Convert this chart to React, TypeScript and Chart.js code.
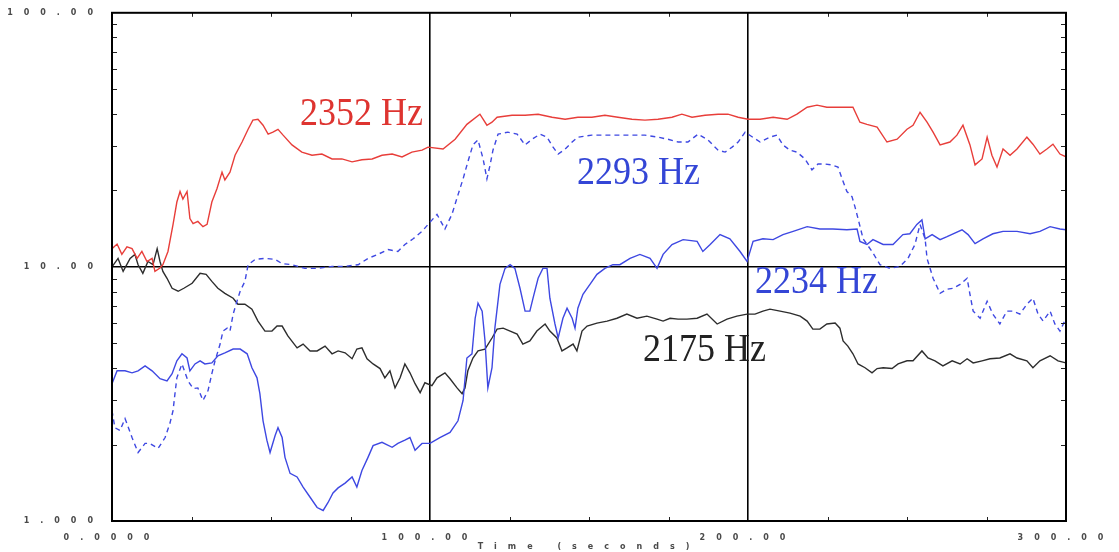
import { useEffect, useRef } from "react";
import { Chart, registerables } from "chart.js";

Chart.register(...registerables);

// [time (s), level] pairs for each tone
const tone2352: [number, number][] = [
  [0, 11.8], [1.6, 12.3], [3.1, 11.2], [4.7, 12.0], [6.3, 11.8], [7.9, 10.8], [9.4, 11.5], [11.0, 10.5],
  [12.6, 10.8], [13.5, 9.6], [15.1, 9.9], [16.0, 10.2], [17.6, 11.5], [19.2, 14.7], [20.4, 18.0], [21.4, 19.8],
  [22.3, 18.5], [23.6, 19.8], [24.5, 15.5], [25.5, 14.8], [27.0, 15.1], [28.6, 14.4], [29.9, 14.7], [31.4, 18.0],
  [33.0, 20.3], [34.6, 23.6], [35.5, 22.0], [37.1, 23.6], [38.7, 27.5], [40.9, 31.0], [42.8, 34.8], [44.3, 37.8],
  [45.9, 38.1], [47.5, 36.1], [49.1, 33.3], [50.6, 33.9], [52.2, 34.8], [53.8, 33.0], [56.6, 30.2], [59.7, 28.3],
  [62.9, 27.5], [66.0, 27.8], [69.2, 26.6], [72.3, 26.6], [75.5, 25.9], [78.6, 26.4], [81.8, 26.6], [84.9, 27.5],
  [88.1, 27.8], [91.2, 27.1], [94.3, 28.3], [97.5, 28.8], [99.4, 29.6], [104.1, 29.1], [107.9, 31.8], [111.6, 36.4],
  [115.7, 39.9], [117.9, 36.1], [119.5, 37.1], [121.1, 38.8], [125.8, 39.5], [129.9, 39.5], [134.0, 39.9], [138.4, 38.8],
  [142.5, 38.1], [146.5, 38.8], [150.9, 38.8], [155.0, 39.5], [159.1, 38.8], [163.5, 38.1], [167.6, 37.8], [171.7, 38.1],
  [176.1, 38.8], [179.2, 39.9], [182.4, 38.8], [186.5, 39.5], [190.6, 39.9], [193.7, 39.9], [196.9, 38.8], [200.0, 38.1],
  [203.8, 38.1], [207.9, 38.8], [212.3, 38.1], [215.4, 39.9], [218.6, 42.5], [221.7, 43.3], [224.8, 42.5], [228.9, 42.5],
  [233.0, 42.5], [235.2, 37.1], [237.4, 36.4], [240.6, 35.5], [243.7, 31.0], [246.9, 31.8], [250.0, 34.8], [251.9, 36.1],
  [254.1, 40.6], [256.3, 37.1], [258.2, 33.9], [260.4, 30.2], [263.5, 31.0], [265.7, 33.0], [267.6, 36.1], [269.8, 30.2],
  [271.4, 25.2], [273.6, 26.6], [275.2, 32.4], [276.7, 27.5], [278.3, 24.7], [280.2, 29.1], [282.4, 27.5], [284.6, 29.1],
  [287.7, 32.4], [289.6, 30.4], [291.8, 27.8], [294.0, 29.1], [295.9, 30.4], [298.1, 27.8], [300, 27.1],
];

const tone2293: [number, number][] = [
  [0, 2.72], [0.9, 2.33], [2.5, 2.27], [4.1, 2.53], [6.3, 2.13], [8.2, 1.86], [10.4, 2.02], [11.9, 2.02],
  [14.5, 1.93], [16.7, 2.13], [18.2, 2.42], [19.2, 2.72], [19.8, 3.17], [20.4, 3.66], [22.0, 4.15], [23.9, 3.56],
  [25.5, 3.32], [27.0, 3.34], [28.6, 2.98], [30.2, 3.26], [31.4, 3.8], [32.4, 4.27], [34.0, 4.97], [34.9, 5.59],
  [36.2, 5.74], [37.1, 5.59], [38.1, 6.52], [39.3, 7.33], [40.3, 8.02], [41.8, 8.77], [42.8, 10.2], [45.0, 10.7],
  [48.1, 10.8], [51.3, 10.7], [53.5, 10.3], [56.6, 10.2], [60.7, 9.87], [64.8, 9.87], [69.2, 10.05], [73.3, 10.05],
  [77.4, 10.2], [80.5, 10.8], [83.6, 11.2], [86.8, 11.7], [89.9, 11.5], [92.1, 12.25], [94.7, 12.9], [97.5, 13.8],
  [99.4, 14.7], [102.2, 16.1], [104.7, 14.1], [106.9, 16.1], [108.8, 19.2], [110.4, 22.2], [111.9, 25.9], [113.5, 30.2],
  [115.1, 31.6], [116.7, 26.6], [117.9, 22.2], [118.9, 25.2], [119.8, 28.8], [121.4, 33.3], [124.5, 33.9], [127.4, 33.3],
  [129.9, 30.2], [132.1, 31.8], [134.6, 33.3], [136.8, 32.4], [138.7, 29.6], [140.3, 27.8], [142.5, 29.1], [144.7, 31.0],
  [146.5, 32.4], [150.9, 33.0], [155.0, 33.0], [159.1, 33.0], [163.5, 33.0], [167.6, 33.0], [171.7, 32.4], [174.8, 31.8],
  [178.0, 31.0], [181.1, 31.0], [184.3, 33.3], [187.4, 31.6], [190.6, 28.8], [192.8, 28.3], [195.0, 29.6], [196.9, 31.0],
  [199.1, 33.9], [203.8, 31.0], [206.9, 32.4], [209.1, 33.0], [211.0, 30.2], [213.2, 28.8], [215.4, 28.3], [217.9, 26.6],
  [220.1, 24.1], [222.0, 25.4], [224.2, 25.4], [226.4, 25.2], [228.3, 24.7], [229.6, 22.2], [231.1, 19.8], [232.7, 18.9],
  [233.6, 17.3], [234.6, 15.5], [236.2, 12.9], [239.0, 11.5], [241.5, 10.2], [244.7, 9.87], [247.8, 10.05], [250.3, 10.8],
  [252.5, 12.25], [254.1, 14.7], [255.7, 12.9], [256.3, 10.8], [258.2, 9.02], [260.4, 7.87], [262.6, 8.17], [264.5, 8.24],
  [266.7, 8.54], [268.9, 9.02], [269.8, 7.8], [270.8, 6.7], [273.0, 6.28], [275.2, 7.33], [277.0, 6.52], [279.2, 5.96],
  [281.4, 6.7], [283.3, 6.7], [285.5, 6.52], [287.7, 7.13], [289.6, 7.53], [291.2, 6.52], [292.8, 6.12], [295.0, 6.7],
  [296.5, 5.96], [298.1, 5.59], [300, 6.28],
];

const tone2234: [number, number][] = [
  [0, 3.47], [1.6, 3.9], [4.1, 3.9], [6.3, 3.83], [8.2, 3.9], [10.4, 4.08], [12.6, 3.9], [15.1, 3.63],
  [17.3, 3.56], [18.9, 3.8], [20.4, 4.27], [22.0, 4.55], [23.6, 4.38], [24.5, 3.9], [26.1, 4.15], [27.7, 4.27],
  [29.2, 4.15], [31.4, 4.19], [33.3, 4.47], [35.5, 4.59], [38.1, 4.75], [40.3, 4.75], [42.5, 4.55], [44.0, 4.01],
  [45.6, 3.66], [46.5, 3.17], [47.5, 2.48], [48.7, 2.08], [49.7, 1.86], [51.3, 2.17], [52.2, 2.33], [53.5, 2.13],
  [54.4, 1.78], [56.0, 1.54], [58.2, 1.49], [60.1, 1.36], [62.3, 1.24], [64.5, 1.13], [66.4, 1.1], [67.9, 1.18],
  [69.5, 1.29], [71.1, 1.35], [73.3, 1.41], [75.5, 1.49], [77.0, 1.36], [78.6, 1.58], [80.5, 1.78], [82.1, 1.98],
  [84.9, 2.04], [88.1, 1.95], [89.9, 2.02], [92.1, 2.08], [93.7, 2.13], [95.3, 1.9], [97.5, 2.02], [100, 2.02],
  [103.1, 2.13], [106.3, 2.23], [108.8, 2.48], [110.4, 2.98], [111.6, 4.38], [113.2, 4.55], [114.2, 6.28], [115.1, 7.2],
  [116.4, 6.7], [117.3, 5.11], [118.2, 3.34], [119.5, 4.01], [120.4, 5.74], [122.0, 8.54], [123.6, 9.87], [125.2, 10.2],
  [126.7, 9.87], [128.3, 8.24], [129.9, 6.7], [131.4, 6.7], [132.4, 7.53], [134.0, 9.02], [135.5, 9.87], [136.8, 9.87],
  [137.7, 7.53], [139.3, 5.96], [140.3, 5.25], [141.8, 6.28], [143.1, 6.88], [144.7, 6.28], [145.6, 5.74], [146.5, 6.88],
  [148.1, 7.8], [150.3, 8.54], [152.5, 9.35], [155.0, 9.87], [157.5, 10.2], [159.7, 10.2], [162.9, 10.8], [166.0, 11.2],
  [169.2, 10.8], [171.4, 9.87], [173.3, 11.2], [176.1, 12.25], [179.6, 12.8], [184.0, 12.6], [185.8, 11.5], [188.1, 12.25],
  [191.2, 13.4], [194.3, 12.9], [197.5, 11.5], [199.7, 10.5], [201.6, 12.6], [204.7, 12.9], [207.9, 12.8], [211.0, 13.4],
  [214.2, 13.8], [218.6, 14.4], [222.6, 14.1], [226.7, 14.1], [231.1, 14.0], [234.3, 14.1], [235.2, 12.6], [237.4, 12.25],
  [239.3, 12.8], [242.5, 12.25], [245.6, 12.25], [248.7, 13.4], [250.9, 13.5], [253.1, 14.7], [254.7, 15.3], [255.7, 12.9],
  [257.9, 13.4], [260.4, 12.8], [262.6, 13.15], [264.5, 13.5], [267.3, 14.0], [269.2, 13.4], [271.4, 12.35], [273.9, 12.9],
  [277.0, 13.5], [280.2, 13.8], [284.6, 13.8], [288.7, 13.5], [291.8, 13.8], [295.0, 14.4], [298.1, 14.1], [300, 14.0],
];

const tone2175: [number, number][] = [
  [0, 10.0], [1.9, 10.8], [3.5, 9.6], [5.7, 10.8], [7.2, 11.2], [8.2, 10.2], [9.7, 9.43], [11.3, 10.5],
  [12.9, 10.2], [14.2, 11.8], [15.1, 10.5], [16.0, 9.6], [17.3, 9.02], [18.9, 8.24], [20.8, 8.02], [22.6, 8.24],
  [25.2, 8.62], [27.7, 9.43], [29.6, 9.35], [31.4, 8.77], [33.3, 8.24], [35.5, 7.87], [38.1, 7.53], [39.6, 7.13],
  [41.8, 7.13], [44.0, 6.82], [45.9, 6.12], [48.1, 5.59], [50.3, 5.59], [51.9, 5.85], [53.5, 5.85], [55.3, 5.35],
  [58.2, 4.8], [60.1, 4.97], [62.3, 4.67], [64.5, 4.67], [67.0, 4.88], [69.2, 4.55], [71.1, 4.67], [73.3, 4.59],
  [75.5, 4.35], [77.0, 4.75], [78.6, 4.8], [80.2, 4.35], [82.1, 4.15], [84.3, 3.98], [85.8, 3.66], [87.4, 3.9],
  [89.0, 3.34], [90.6, 3.66], [92.1, 4.15], [93.7, 3.83], [95.3, 3.47], [96.9, 3.2], [98.4, 3.5], [100.6, 3.41],
  [102.2, 3.66], [104.7, 3.83], [106.3, 3.63], [108.5, 3.34], [110.1, 3.17], [111.0, 3.34], [111.9, 3.9], [113.5, 4.38],
  [115.1, 4.67], [117.3, 4.75], [119.5, 5.25], [121.1, 5.69], [123.0, 5.74], [125.2, 5.59], [127.4, 5.44], [129.2, 4.97],
  [131.4, 5.11], [133.6, 5.59], [136.2, 5.96], [137.7, 5.59], [139.9, 5.25], [141.5, 4.67], [143.1, 4.8], [145.0, 4.97],
  [146.2, 4.67], [147.8, 5.59], [149.4, 5.85], [152.5, 6.01], [155.7, 6.12], [158.8, 6.28], [161.9, 6.52], [165.1, 6.28],
  [168.2, 6.4], [171.4, 6.23], [173.3, 6.12], [175.5, 6.28], [178.0, 6.23], [180.8, 6.23], [184.0, 6.28], [187.1, 6.52],
  [190.3, 5.96], [193.4, 6.23], [196.5, 6.4], [199.7, 6.52], [202.2, 6.52], [204.7, 6.7], [206.9, 6.82], [210.1, 6.7],
  [213.2, 6.58], [216.4, 6.4], [218.6, 6.12], [220.4, 5.69], [222.6, 5.69], [224.8, 5.96], [227.4, 6.01], [228.9, 5.74],
  [229.9, 5.11], [231.4, 4.88], [233.0, 4.55], [234.6, 4.15], [236.8, 4.01], [239.0, 3.83], [240.6, 3.98], [242.5, 4.01],
  [245.3, 3.98], [247.2, 4.15], [250.0, 4.27], [251.9, 4.27], [254.7, 4.67], [256.6, 4.38], [258.8, 4.27], [261.3, 4.08],
  [264.2, 4.27], [266.7, 4.15], [268.9, 4.35], [270.8, 4.19], [273.6, 4.27], [276.1, 4.35], [279.2, 4.38], [282.4, 4.55],
  [284.6, 4.38], [287.7, 4.27], [289.6, 4.01], [291.8, 4.27], [295.0, 4.47], [297.5, 4.27], [300, 4.19],
];

// Axis ticks
const xTickValues = [0, 100, 200, 300];
const xTickLabels = ["0.0000", "100.00", "200.00", "300.00"];
const xMinorTicks = [25, 50, 75, 125, 150, 175, 225, 250, 275];
const yTickValues = [1, 10, 100];
const yTickLabels = ["1.000", "10.00", "100.00"];
const yMinorTicks = [2, 3, 4, 5, 6, 7, 8, 9, 20, 30, 40, 50, 60, 70, 80, 90];
const xAxisTitle = "Time (seconds)";

// In-plot tone captions, anchored at (time, level)
const captionTexts = ["2352 Hz", "2293 Hz", "2234 Hz", "2175 Hz"];
const captionTimes = [59.1, 146.2, 202.2, 167.0];
const captionLevels = [36.1, 21.2, 7.87, 4.27];

const RED = "rgb(232, 62, 58)";
const BLUE = "rgb(62, 72, 226)";
const DARK = "rgb(45, 45, 45)";
const captionColors = ["rgb(222, 52, 48)", "rgb(52, 70, 214)", "rgb(52, 70, 214)", "rgb(34, 34, 34)"];

const toPoints = (pairs: [number, number][]) => pairs.map(([x, y]) => ({ x, y }));

const TICK_FONT = { size: 8, weight: "bold" as const, family: "'DejaVu Sans', sans-serif" };
const TICK_COLOR = "#4a4a4a";

const framePlugin = {
  id: "plotFrame",
  beforeDraw(chart: any) {
    // spaced-out tick lettering
    chart.ctx.letterSpacing = "11px";
  },
  afterDatasetsDraw(chart: any) {
    const { ctx, chartArea: a, scales } = chart;
    const xs = scales.x;
    const ys = scales.y;
    ctx.save();
    ctx.letterSpacing = "0px";

    // inward minor ticks on all four sides
    ctx.strokeStyle = "#222";
    ctx.lineWidth = 1;
    ctx.beginPath();
    for (const v of yMinorTicks) {
      const y = Math.round(ys.getPixelForValue(v)) + 0.5;
      ctx.moveTo(a.left, y);
      ctx.lineTo(a.left + 5, y);
      ctx.moveTo(a.right, y);
      ctx.lineTo(a.right - 5, y);
    }
    for (const v of xMinorTicks) {
      const x = Math.round(xs.getPixelForValue(v)) + 0.5;
      ctx.moveTo(x, a.bottom);
      ctx.lineTo(x, a.bottom - 4);
      ctx.moveTo(x, a.top);
      ctx.lineTo(x, a.top + 4);
    }
    ctx.stroke();

    // plot frame
    ctx.strokeStyle = "#000";
    ctx.lineWidth = 2;
    ctx.strokeRect(a.left, a.top, a.right - a.left, a.bottom - a.top);

    // tone captions
    ctx.font = "36px 'Liberation Serif', 'Times New Roman', serif";
    ctx.textAlign = "left";
    ctx.textBaseline = "alphabetic";
    captionTexts.forEach((text, i) => {
      const x = xs.getPixelForValue(captionTimes[i]);
      const y = ys.getPixelForValue(captionLevels[i]);
      ctx.save();
      ctx.translate(x, y);
      ctx.scale(1, 1.1);
      ctx.fillStyle = captionColors[i];
      ctx.fillText(text, 0, 0);
      ctx.restore();
    });
    ctx.restore();
  },
};

export default function App() {
  const canvasRef = useRef<HTMLCanvasElement | null>(null);

  useEffect(() => {
    if (!canvasRef.current) return;
    const chart = new Chart(canvasRef.current, {
      type: "line",
      data: {
        datasets: [
          { label: captionTexts[0], data: toPoints(tone2352), borderColor: RED, borderWidth: 1.4 },
          { label: captionTexts[1], data: toPoints(tone2293), borderColor: BLUE, borderWidth: 1.4, borderDash: [5, 4] },
          { label: captionTexts[2], data: toPoints(tone2234), borderColor: BLUE, borderWidth: 1.4 },
          { label: captionTexts[3], data: toPoints(tone2175), borderColor: DARK, borderWidth: 1.4 },
        ],
      },
      options: {
        animation: false,
        responsive: true,
        maintainAspectRatio: false,
        layout: { padding: { top: 10, right: 53, left: 0, bottom: 0 } },
        elements: { point: { radius: 0 }, line: { tension: 0, fill: false } },
        plugins: { legend: { display: false }, tooltip: { enabled: false } },
        scales: {
          x: {
            type: "linear",
            min: 0,
            max: 300,
            afterBuildTicks: (s: any) => {
              s.ticks = xTickValues.map((value) => ({ value }));
            },
            afterFit: (s: any) => {
              s.height = 31;
            },
            ticks: {
              autoSkip: false,
              maxRotation: 0,
              padding: 12,
              color: TICK_COLOR,
              font: TICK_FONT,
              callback: (v: any) => xTickLabels[xTickValues.indexOf(Number(v))] ?? "",
            },
            grid: {
              drawTicks: false,
              lineWidth: 1.6,
              color: (c: any) =>
                c.tick && c.tick.value > xTickValues[0] && c.tick.value < xTickValues[xTickValues.length - 1]
                  ? "#000"
                  : "rgba(0,0,0,0)",
            },
            border: { display: false },
            title: {
              display: true,
              text: xAxisTitle,
              color: TICK_COLOR,
              font: TICK_FONT,
              padding: 0,
            },
          },
          y: {
            type: "logarithmic",
            min: 1,
            max: 100,
            afterBuildTicks: (s: any) => {
              s.ticks = yTickValues.map((value) => ({ value }));
            },
            afterFit: (s: any) => {
              s.width = 112;
            },
            ticks: {
              autoSkip: false,
              padding: 8,
              color: TICK_COLOR,
              font: TICK_FONT,
              callback: (v: any) => yTickLabels[yTickValues.indexOf(Number(v))] ?? "",
            },
            grid: {
              drawTicks: false,
              lineWidth: 1.6,
              color: (c: any) => (c.tick && c.tick.value === yTickValues[1] ? "#000" : "rgba(0,0,0,0)"),
            },
            border: { display: false },
          },
        },
      },
      plugins: [framePlugin],
    });
    return () => chart.destroy();
  }, []);

  return (
    <div style={{ position: "fixed", left: 0, top: 0, width: 1119, height: 552, background: "#fff" }}>
      <canvas ref={canvasRef} />
    </div>
  );
}
